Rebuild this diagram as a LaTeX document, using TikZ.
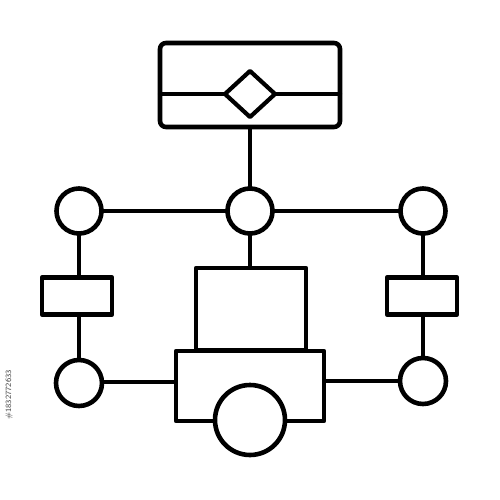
\documentclass[tikz,border=0pt]{standalone}
\usetikzlibrary{shapes.geometric}
\begin{document}
\begin{tikzpicture}[x=1pt,y=-1pt,
  every node/.style={inner sep=0pt,outer sep=0pt},
  shapeline/.style={line width=4.6pt,line cap=round,line join=round,draw=black,fill=white},
  conn/.style={line width=4.2pt,line cap=round,draw=black},
  ring/.style={circle,shapeline,minimum size=45pt},
  smallbox/.style={rectangle,shapeline,minimum width=70pt,minimum height=37pt}]
\useasboundingbox (0,0) rectangle (500,500);
\fill[white] (0,0) rectangle (500,500);
% connectors first
\coordinate (topbot) at (250,126);
\coordinate (cc) at (250,211);
\draw[conn] (79,211) -- (423,211);
\draw[conn] (250,126) -- (250,268);
\draw[conn] (79,211) -- (79,383);
\draw[conn] (423,211) -- (423,381);
\draw[conn] (79,382) -- (176,382);
\draw[conn] (324,381) -- (423,381);
% top box
\draw[shapeline,rounded corners=6pt] (160,43) rectangle (340,127);
\draw[conn] (160,94) -- (340,94);
\node[diamond,shapeline,minimum width=50pt,minimum height=46pt,line width=4.2pt] (dia) at (250,94) {};
% circles row
\node[ring] (cl) at (79,211) {};
\node[ring] (cm) at (250,211) {};
\node[ring] (cr) at (423,211) {};
% small boxes
\node[smallbox] (bl) at (77,296) {};
\node[smallbox] (br) at (422,296) {};
% bottom circles
\node[ring,minimum size=46pt] (dl) at (79,383) {};
\node[ring,minimum size=46pt] (dr) at (423,381) {};
% central structure
\draw[shapeline] (196,268) rectangle (306,350);
\draw[shapeline] (176,351) rectangle (324,421);
\node[circle,shapeline,minimum size=70pt] (wheel) at (250,420) {};
% stock id
\node[rotate=90,font=\sffamily\fontsize{8}{8}\selectfont,text=black!75] (id) at (9,395) {\#1832772633};
\end{tikzpicture}
\end{document}
